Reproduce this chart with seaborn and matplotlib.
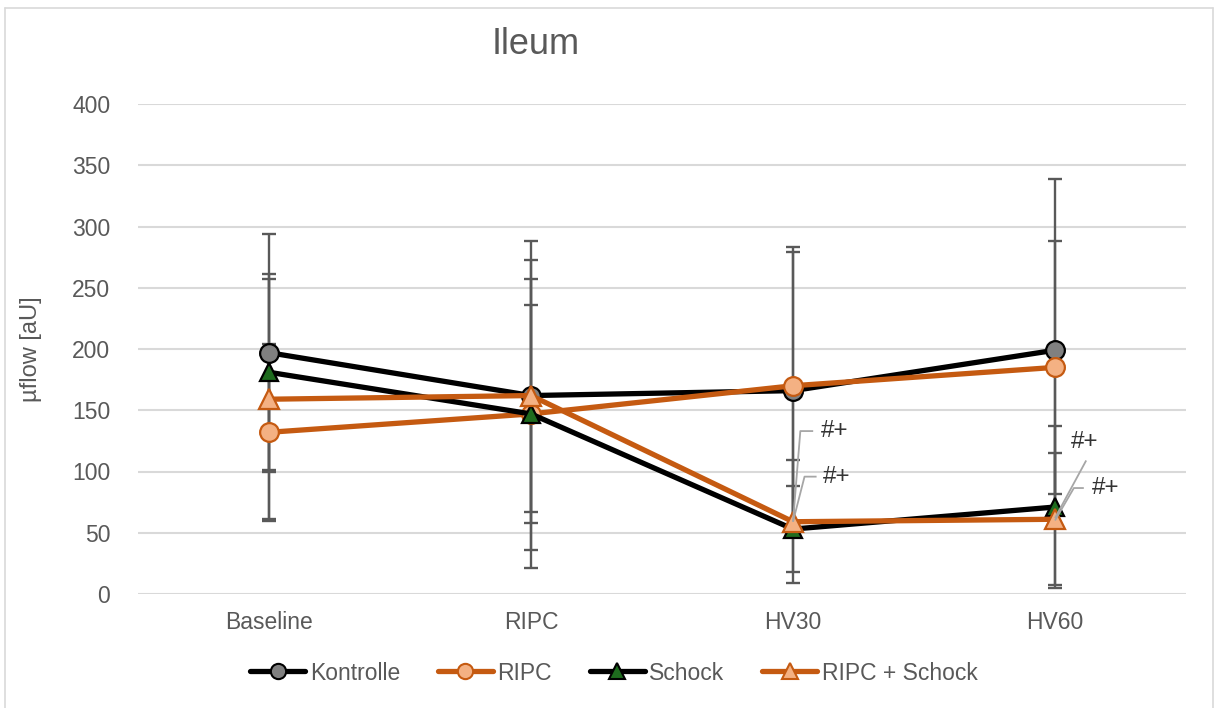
import numpy as np
import pandas as pd
import matplotlib
matplotlib.use("Agg")
import matplotlib.pyplot as plt
from matplotlib.lines import Line2D
import seaborn as sns

categories = ["Baseline", "RIPC", "HV30", "HV60"]
series_names = ["Kontrolle", "RIPC", "Schock", "RIPC + Schock"]
kontrolle = [197, 162, 166, 199]
ripc = [132, 147, 170, 185]
schock = [181, 147, 53, 71]
ripc_schock = [159, 162, 59, 61]
kontrolle_sd = [97, 126, 113, 140]
ripc_sd = [72, 89, 113, 103]
schock_sd = [80, 126, 35, 66]
ripc_schock_sd = [98, 95, 50, 54]
yticks = [0, 50, 100, 150, 200, 250, 300, 350, 400]

sns.set_theme(style="white")
plt.rcParams['font.family'] = ['Liberation Sans', 'DejaVu Sans']

TXT = "#595959"
fig = plt.figure(figsize=(12.14, 7.08), dpi=100)
ax = fig.add_axes([138/1214, 1-594/708, (1186-138)/1214, 490/708])

xpos = np.arange(len(categories))
means = [kontrolle, ripc, schock, ripc_schock]
sds = [kontrolle_sd, ripc_sd, schock_sd, ripc_schock_sd]
line_colors = ["black", "#C55A11", "black", "#C55A11"]
face_colors = ["#808080", "#F4B183", "#1E6B1E", "#F4B183"]
edge_colors = ["black", "#C55A11", "black", "#C55A11"]
markers = ["o", "o", "^", "^"]
msizes = [13.5, 13.5, 13, 14]

# error bars
for m, s in zip(means, sds):
    ax.errorbar(xpos, m, yerr=s, fmt="none", ecolor=TXT, elinewidth=1.7,
                capsize=5, capthick=1.7, zorder=2, clip_on=True)

for i, (name, m) in enumerate(zip(series_names, means)):
    df = pd.DataFrame({"x": xpos, "y": m})
    sns.lineplot(data=df, x="x", y="y", ax=ax, color=line_colors[i],
                 linewidth=3.8, marker=markers[i], markersize=msizes[i],
                 markerfacecolor=face_colors[i], markeredgecolor=edge_colors[i],
                 markeredgewidth=1.6, zorder=3 + i, legend=False)

ax.set_xlim(-0.5, 3.5)
ax.set_ylim(0, 400)
ax.set_yticks(yticks)
ax.set_xticks(xpos)
ax.set_xticklabels(categories)
ax.set_xlabel("")
ax.set_ylabel("")
ax.grid(axis="y", color="#D9D9D9", linewidth=1.5)
ax.grid(axis="x", visible=False)
for sp in ax.spines.values():
    sp.set_visible(False)
ax.tick_params(axis="y", length=0, pad=20, labelsize=16.5, labelcolor=TXT)
ax.tick_params(axis="x", length=0, pad=12, labelsize=16.5, labelcolor=TXT)

# annotations
ann_col = "#A6A6A6"
ann_txt = "#333333"
def leader(pts, tx, ty):
    xs, ys = zip(*pts)
    ax.plot(xs, ys, color=ann_col, linewidth=1.3, zorder=8, solid_capstyle="butt")
    ax.text(tx, ty, "#+", color=ann_txt, fontsize=17.5, va="center", ha="left", zorder=9)

leader([(2, 59), (2.028, 133), (2.077, 133)], 2.105, 133)
leader([(2, 59), (2.044, 95.8), (2.09, 95.8)], 2.114, 95.8)
leader([(3, 62), (3.119, 109)], 3.062, 124)
leader([(3, 60), (3.072, 86.5), (3.11, 86.5)], 3.14, 86.5)

fig.text(536/1214, 1-45/708, "Ileum", fontsize=26, color=TXT, ha="center", va="center")
fig.text(31/1214, 1-349/708, "µflow [aU]", fontsize=17, color=TXT, rotation=90,
         ha="center", va="center")

handles = [Line2D([0], [0], color=line_colors[i], linewidth=3.8, marker=markers[i],
                  markersize=11, markerfacecolor=face_colors[i],
                  markeredgecolor=edge_colors[i], markeredgewidth=1.5)
           for i in range(4)]
leg = fig.legend(handles, series_names, loc="center", bbox_to_anchor=(614/1214, 1-673/708),
                 ncol=4, frameon=False, fontsize=16.5, handlelength=2.4,
                 handletextpad=0.2, columnspacing=1.65)
for t in leg.get_texts():
    t.set_color(TXT)

# outer border
bc = "#D9D9D9"
fig.add_artist(Line2D([5/1214, 5/1214], [0, 1-8/708], color=bc, linewidth=1.2))
fig.add_artist(Line2D([5/1214, 1213/1214], [1-8/708, 1-8/708], color=bc, linewidth=1.2))
fig.add_artist(Line2D([1212.5/1214, 1212.5/1214], [0, 1-8/708], color=bc, linewidth=1.2))

fig.savefig("out.png", dpi=100, facecolor="white")
